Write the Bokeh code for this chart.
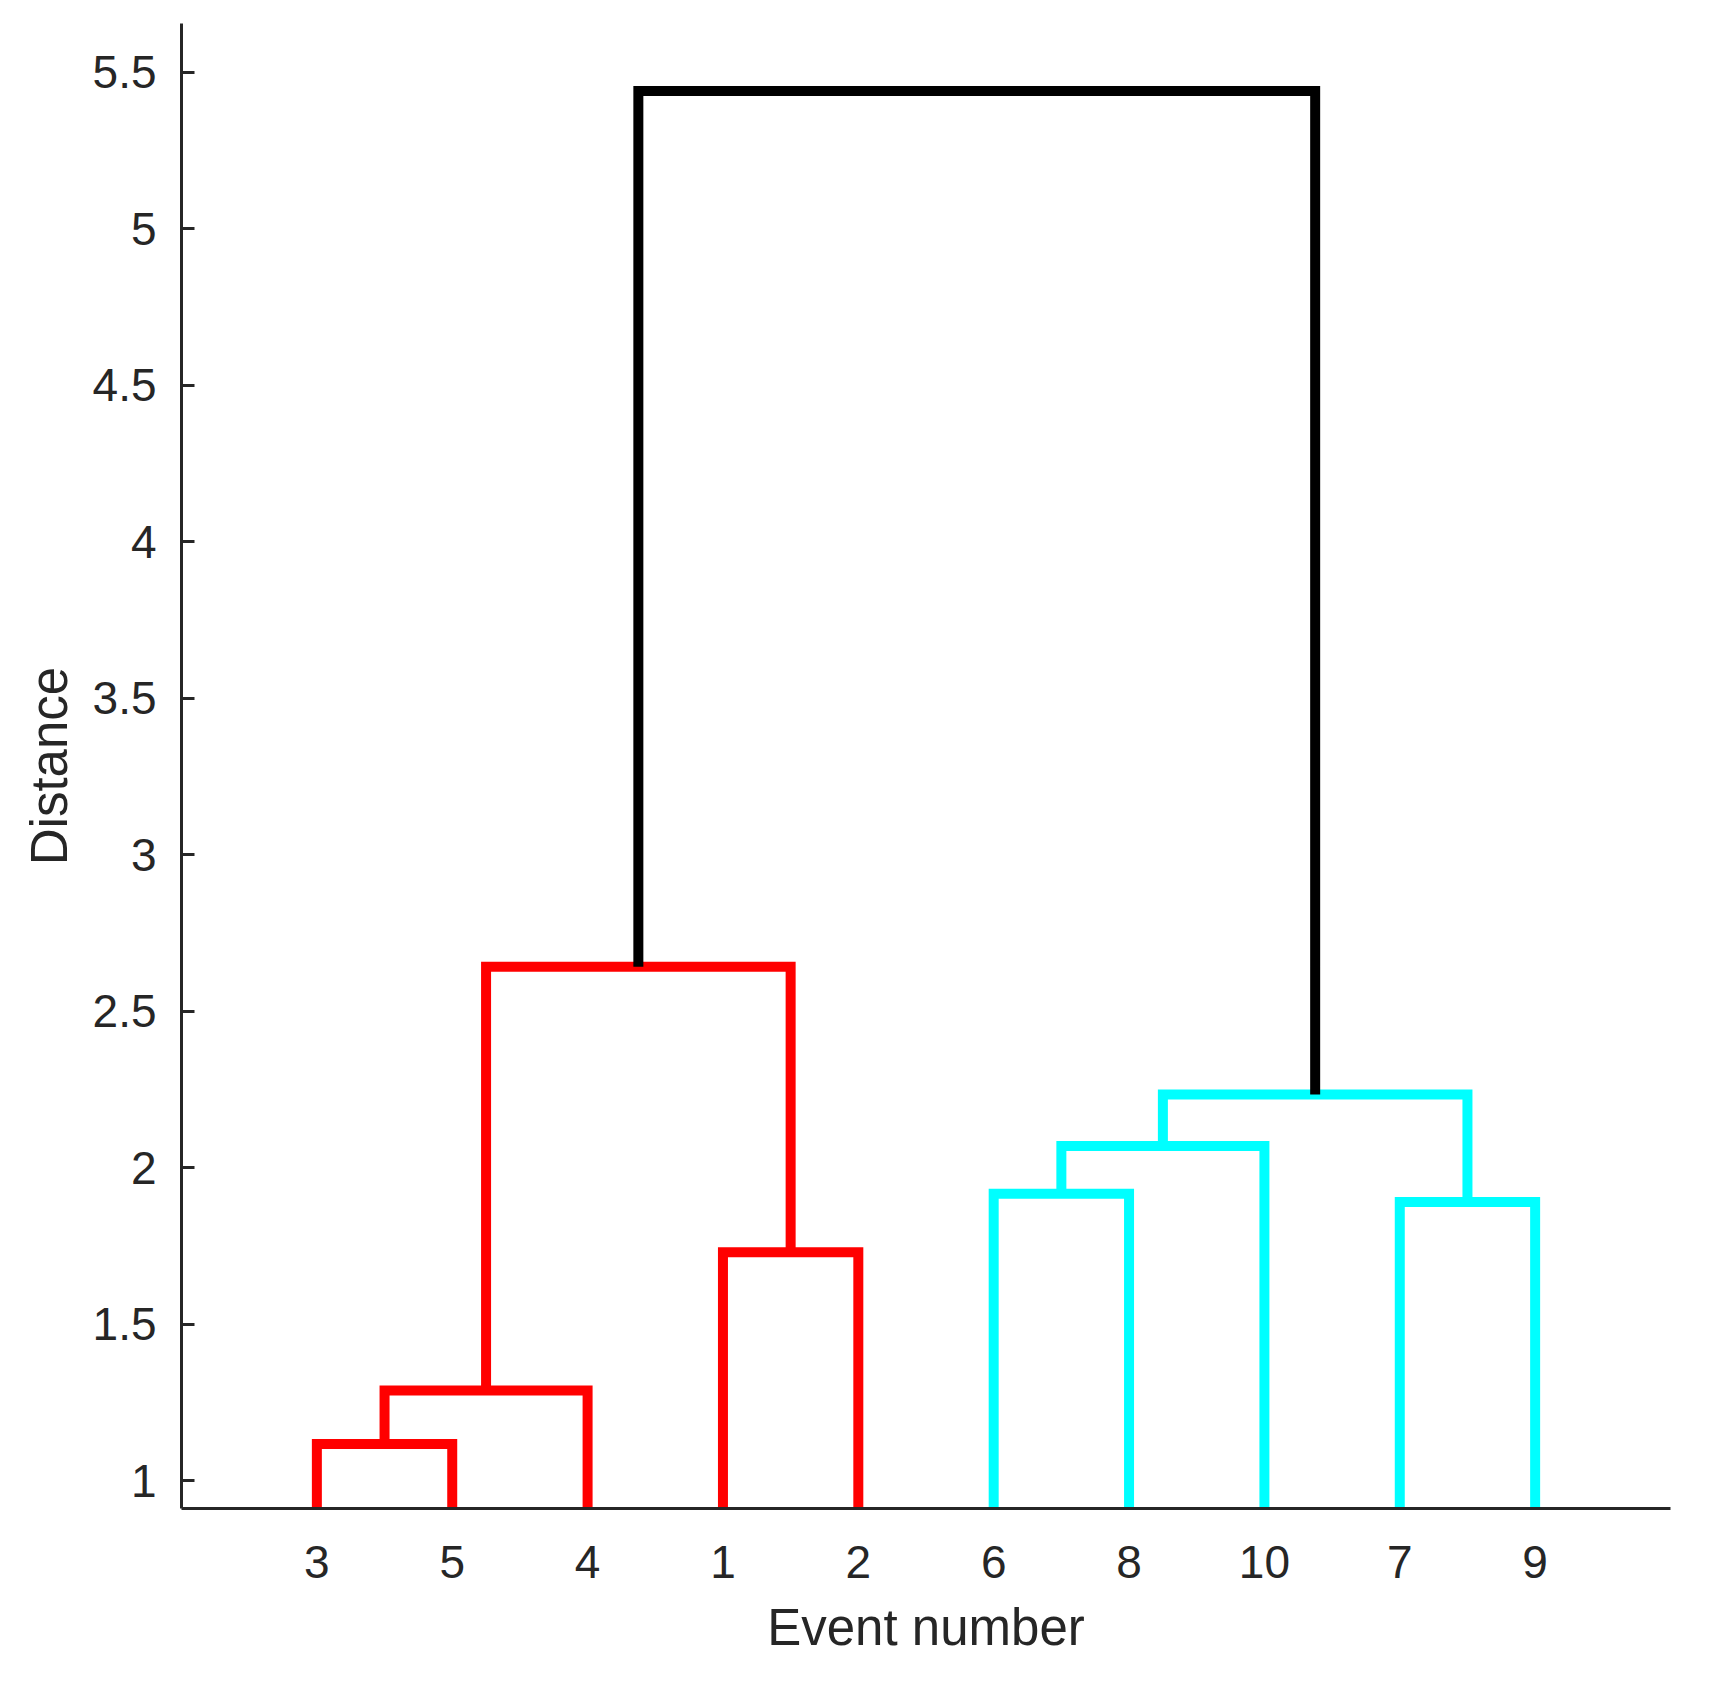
from bokeh.plotting import figure
from bokeh.models import Range1d, FixedTicker
from bokeh.embed import file_html
from bokeh.resources import INLINE

# Leaf order along the x axis (event numbers)
leaf_order = [3, 5, 4, 1, 2, 6, 8, 10, 7, 9]

# Linkage (MATLAB style): leaves are 1..10, new clusters numbered 11..19
link_a = [3, 11, 1, 7, 6, 15, 16, 12, 18]
link_b = [5, 4, 2, 9, 8, 10, 14, 13, 17]
link_height = [1.117, 1.288, 1.730, 1.890, 1.917, 2.069, 2.234, 2.642, 5.440]
link_group = ["A", "A", "A", "B", "B", "B", "B", "A", "top"]

group_colors = {"A": "#FF0000", "B": "#00FFFF", "top": "#000000"}

y_ticks = [1, 1.5, 2, 2.5, 3, 3.5, 4, 4.5, 5, 5.5]

n_leaves = len(leaf_order)
pos = {leaf: i + 1 for i, leaf in enumerate(leaf_order)}
hgt = {leaf: 0.0 for leaf in leaf_order}
xs, ys, cols = [], [], []
for k, (a, b, h, g) in enumerate(zip(link_a, link_b, link_height, link_group)):
    xs.append([pos[a], pos[a], pos[b], pos[b]])
    ys.append([hgt[a], h, h, hgt[b]])
    cols.append(group_colors[g])
    cid = n_leaves + 1 + k
    pos[cid] = (pos[a] + pos[b]) / 2
    hgt[cid] = h

TXT = "#262626"
FONT = "Liberation Sans, Arial, sans-serif"

p = figure(
    frame_width=1489, frame_height=1485,
    min_border_left=181, min_border_top=23, min_border_right=20, min_border_bottom=40,
    x_range=Range1d(0, n_leaves + 1), y_range=Range1d(0.911, 5.656),
    output_backend="svg", toolbar_location=None,
)

for i in range(len(xs)):
    p.line(xs[i], ys[i], line_color=cols[i], line_width=10,
           line_join="miter", line_cap="butt")

p.xgrid.visible = False
p.ygrid.visible = False
p.outline_line_color = None
p.background_fill_color = "white"
p.border_fill_color = "white"

# x axis
p.xaxis.ticker = FixedTicker(ticks=list(range(1, n_leaves + 1)))
p.xaxis.major_label_overrides = {i + 1: str(l) for i, l in enumerate(leaf_order)}
p.xaxis.major_tick_in = 0
p.xaxis.major_tick_out = 0
p.xaxis.minor_tick_in = 0
p.xaxis.minor_tick_out = 0
p.xaxis.axis_label = "Event number"
p.xaxis.major_label_standoff = 37
p.xaxis.axis_label_standoff = 18

# y axis
p.yaxis.ticker = FixedTicker(ticks=y_ticks)
p.yaxis.major_label_overrides = {t: (str(int(t)) if t == int(t) else str(t)) for t in y_ticks}
p.yaxis.major_tick_in = 13
p.yaxis.major_tick_out = 0
p.yaxis.minor_tick_in = 0
p.yaxis.minor_tick_out = 0
p.yaxis.axis_label = "Distance"
p.yaxis.major_label_standoff = 25
p.yaxis.axis_label_standoff = 12

for ax in (p.xaxis[0], p.yaxis[0]):
    ax.axis_line_color = TXT
    ax.axis_line_width = 3
    ax.major_tick_line_color = TXT
    ax.major_tick_line_width = 3
    ax.major_label_text_font = FONT
    ax.major_label_text_font_size = "46px"
    ax.major_label_text_color = TXT
    ax.axis_label_text_font = FONT
    ax.axis_label_text_font_size = "51px"
    ax.axis_label_text_font_style = "normal"
    ax.axis_label_text_color = TXT

open("out.html", "w").write(file_html(p, INLINE))
